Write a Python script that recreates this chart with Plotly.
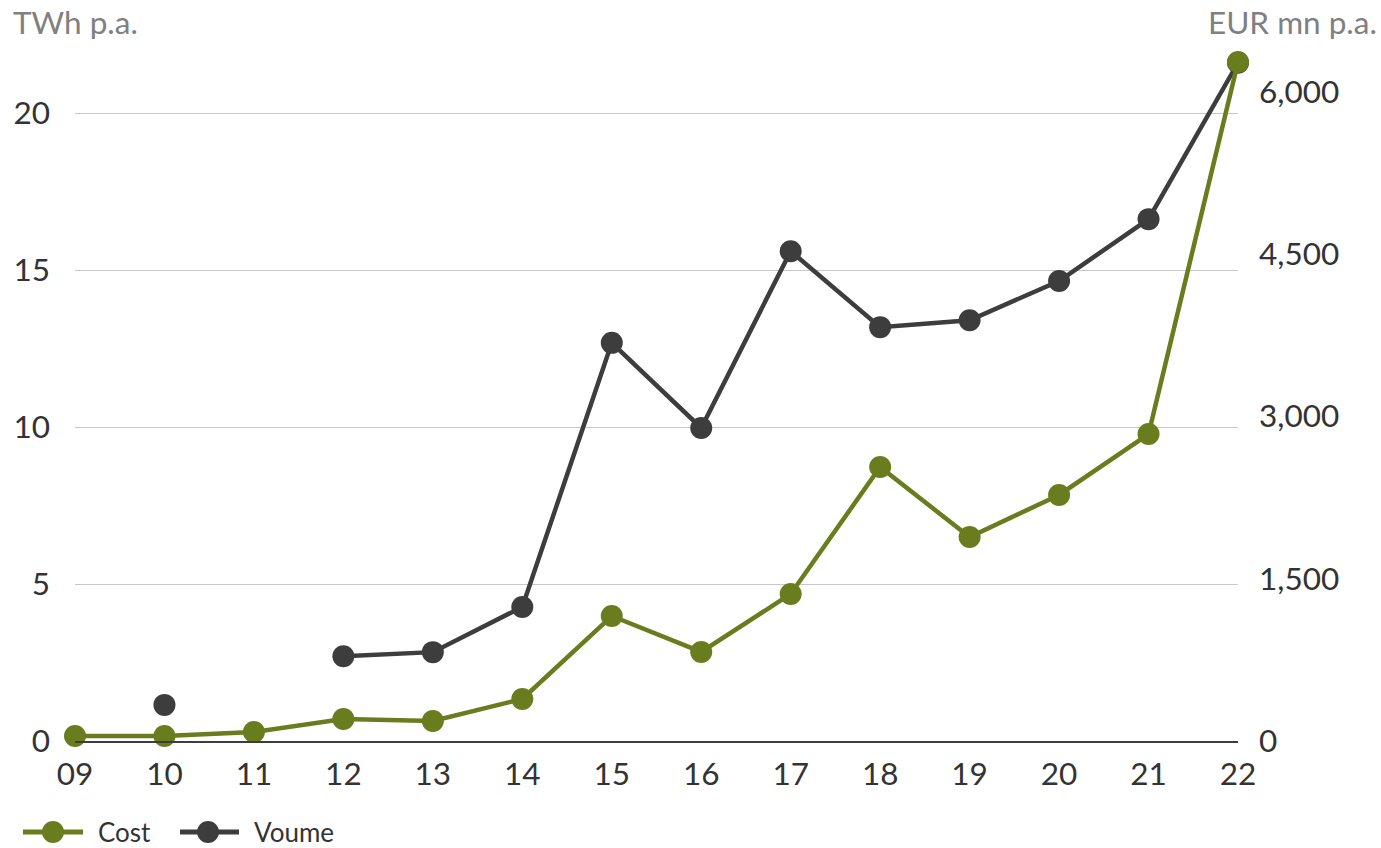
import plotly.graph_objects as go

years = ["09", "10", "11", "12", "13", "14", "15", "16", "17", "18", "19", "20", "21", "22"]
volume_twh = [None, 1.15, None, 2.7, 2.83, 4.27, 12.68, 9.97, 15.6, 13.18, 13.4, 14.65, 16.62, 21.6]
cost_eur_mn = [46, 46, 83, 203, 185, 388, 1155, 823, 1359, 2532, 1885, 2274, 2837, 6275]
legend_labels = ["Cost", "Voume"]

green = "#6a7d1e"
dark = "#3d3d3d"
font_family = "Lato, 'Open Sans', sans-serif"

W, H = 1381, 848
L, R, T, B = 75, 143, 50, 107
PW, PH = W - L - R, H - T - B


def px(xp):
    return (xp - L) / PW


def py(yp):
    return (H - B - yp) / PH


fig = go.Figure()
fig.add_trace(go.Scatter(
    x=years, y=volume_twh, name=legend_labels[1], mode="lines+markers",
    line=dict(color=dark, width=4.5), marker=dict(color=dark, size=22),
    connectgaps=False, cliponaxis=False, yaxis="y", showlegend=False,
))
fig.add_trace(go.Scatter(
    x=years, y=cost_eur_mn, name=legend_labels[0], mode="lines+markers",
    line=dict(color=green, width=4.5), marker=dict(color=green, size=22),
    cliponaxis=False, yaxis="y2", showlegend=False,
))

# manual legend (line + dot + label)
shapes = []
annotations = []
leg_y = 832
for (x0, x1, xc, xt, col, lab) in [
    (23, 83, 53, 96, green, legend_labels[0]),
    (180, 239, 208, 252, dark, legend_labels[1]),
]:
    shapes.append(dict(type="line", xref="paper", yref="paper",
                       x0=px(x0), x1=px(x1), y0=py(leg_y), y1=py(leg_y),
                       line=dict(color=col, width=5)))
    shapes.append(dict(type="circle", xref="paper", yref="paper",
                       xsizemode="pixel", ysizemode="pixel",
                       xanchor=px(xc), yanchor=py(leg_y),
                       x0=-11, x1=11, y0=-11, y1=11,
                       fillcolor=col, line=dict(color=col, width=0)))
    annotations.append(dict(text=lab, xref="paper", yref="paper",
                            x=px(xt), y=py(leg_y), xanchor="left", yanchor="middle",
                            showarrow=False, font=dict(size=26, color="#333333")))

annotations += [
    dict(text="TWh p.a.", xref="paper", yref="paper", x=px(11), xanchor="left",
         y=py(22), yanchor="middle", showarrow=False,
         font=dict(size=31.5, color="#808080")),
    dict(text="EUR mn p.a.", xref="paper", yref="paper", x=px(1379), xanchor="right",
         y=py(22), yanchor="middle", showarrow=False,
         font=dict(size=31.5, color="#808080")),
]

fig.update_layout(
    width=W, height=H,
    margin=dict(l=L, r=R, t=T, b=B, autoexpand=False),
    paper_bgcolor="white", plot_bgcolor="white",
    font=dict(family=font_family, size=31.5, color="#333333"),
    xaxis=dict(
        type="category", range=[0, 13], showgrid=False,
        showline=True, linecolor=dark, linewidth=2,
        ticks="", ticklabelstandoff=4, tickfont=dict(size=31.5, color="#333333"),
        fixedrange=True,
    ),
    yaxis=dict(
        range=[0, PH / 31.4], tickvals=[0, 5, 10, 15, 20],
        showgrid=True, gridcolor="#c8c8c8", gridwidth=1,
        zeroline=False, ticks="", ticklabelstandoff=24,
        tickfont=dict(size=31.5, color="#333333"),
    ),
    yaxis2=dict(
        overlaying="y", side="right",
        range=[0, PH / 162.3 * 1500], tickvals=[0, 1500, 3000, 4500, 6000],
        tickformat=",", showgrid=False, zeroline=False, ticks="",
        ticklabelstandoff=20,
        tickfont=dict(size=31.5, color="#333333"),
    ),
    showlegend=False,
    shapes=shapes,
    annotations=annotations,
)

fig.write_html("out.html")
